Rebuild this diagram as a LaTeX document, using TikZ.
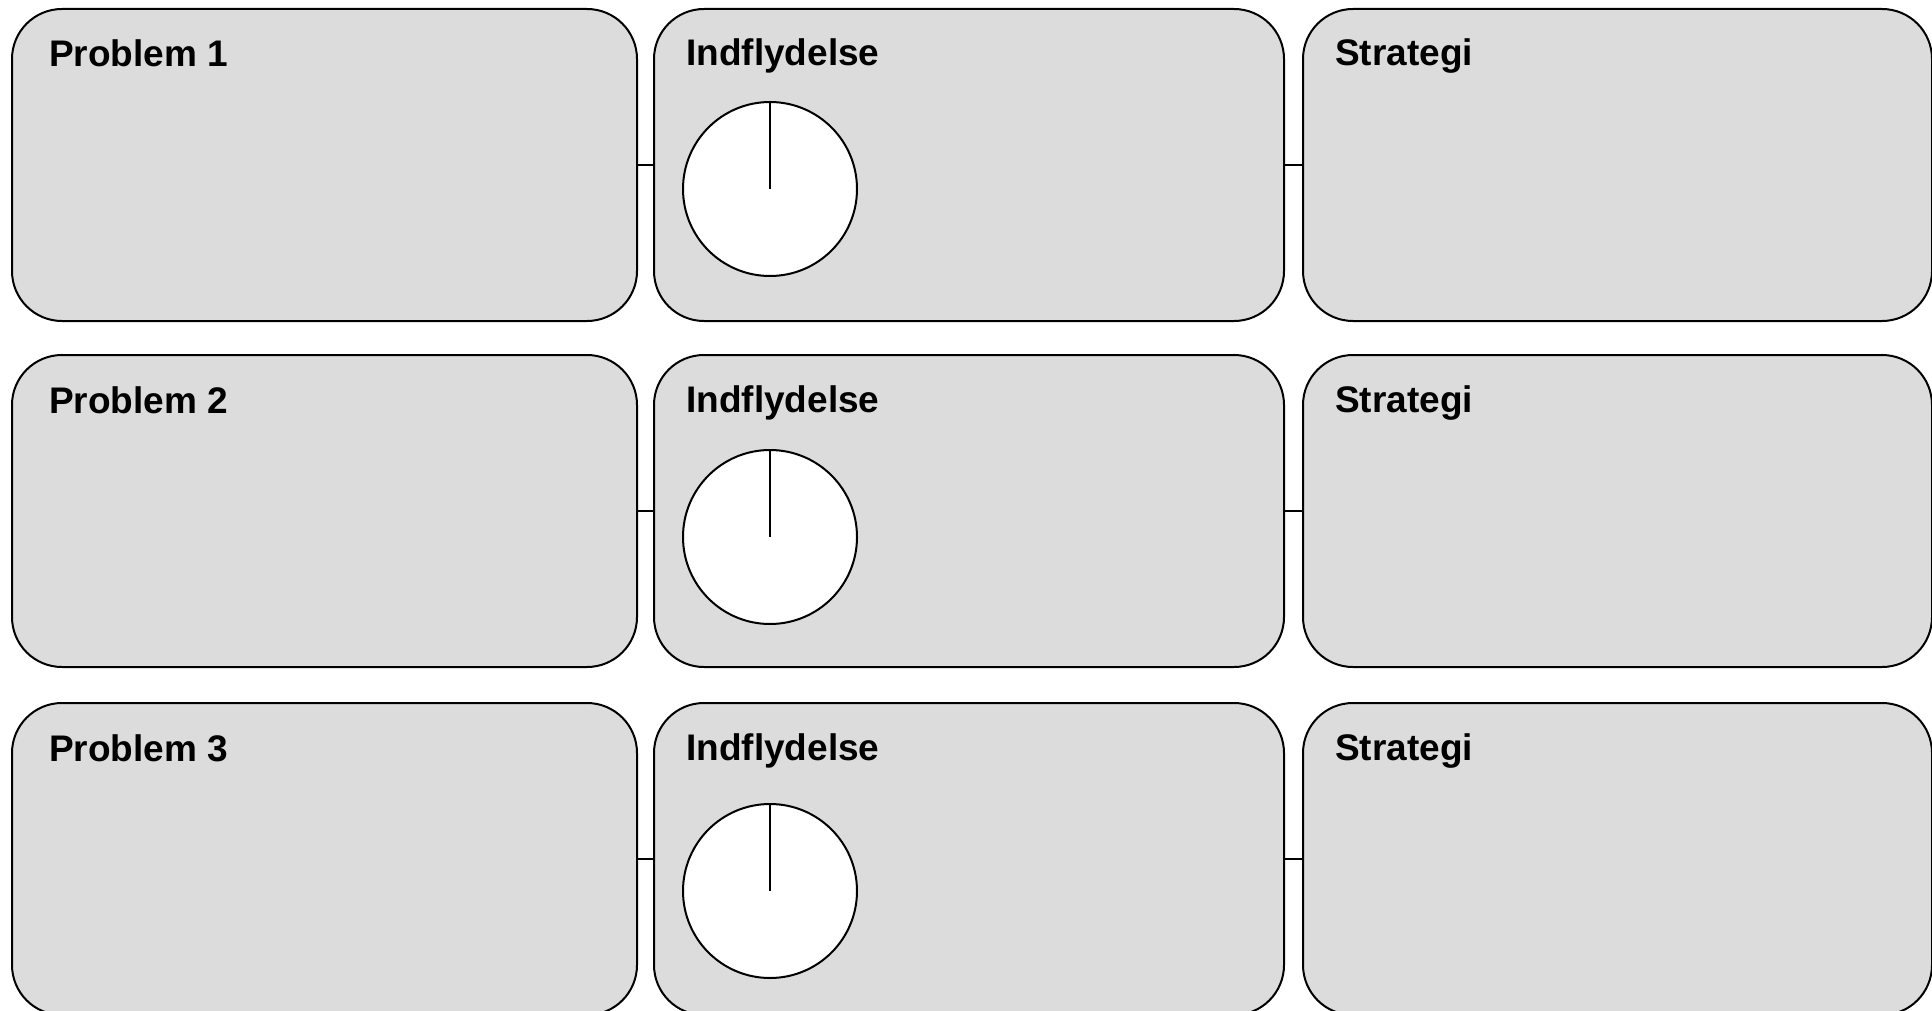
\documentclass[tikz,border=0pt]{standalone}
\usepackage{fontspec}
\setmainfont{Liberation Sans}
\definecolor{boxfill}{RGB}{220,220,220}
\tikzset{
  panel/.style={draw=black, fill=boxfill, line width=2pt, rounded corners=50pt, inner sep=0pt, anchor=north west, minimum height=312pt},
  dial/.style={circle, draw=black, fill=white, line width=2pt, minimum size=174pt, inner sep=0pt},
  title/.style={anchor=base west, inner sep=0pt, font=\fontsize{37pt}{42pt}\selectfont\bfseries},
  link/.style={draw=black, line width=1.6pt}
}
\begin{document}
\begin{tikzpicture}[x=1pt,y=-1pt]
\useasboundingbox[fill=white] (0,0) rectangle (1932,1011);
% rows: top, circle centre
\foreach \r/\t/\c in {1/8/189, 2/354/537, 3/702/891}{
  \node[panel, minimum width=625pt] (p\r) at (11,\t) {};
  \node[panel, minimum width=630pt] (i\r) at (653,\t) {};
  \node[panel, minimum width=629pt] (s\r) at (1302,\t) {};
  \draw[link] (p\r.east) -- (i\r.west);
  \draw[link] (i\r.east) -- (s\r.west);
  \node[title] (tp\r) at (49,\t+59) {Problem \r};
  \node[title] (ti\r) at (686,\t+58) {Indflydelse};
  \node[title] (ts\r) at (1335,\t+58) {Strategi};
  \node[dial] (d\r) at (770,\c) {};
  \draw[line width=2pt] (d\r.north) -- (d\r.center);
}
\end{tikzpicture}
\end{document}
